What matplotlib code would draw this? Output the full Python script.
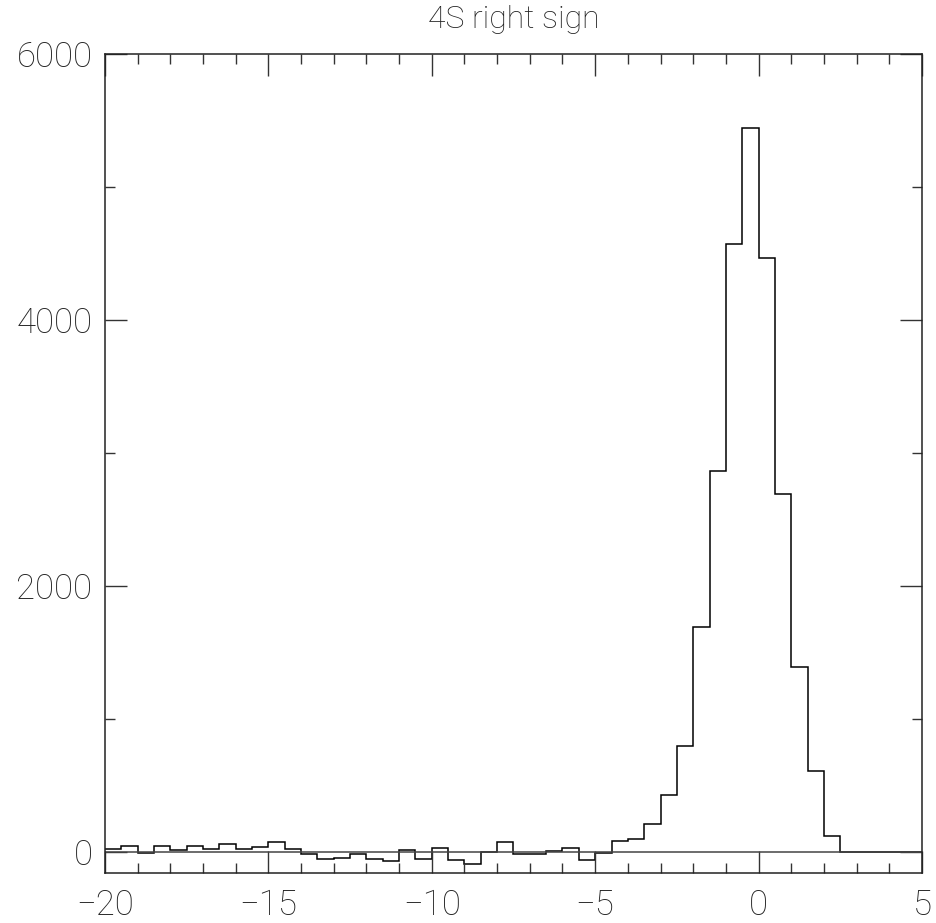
import matplotlib
matplotlib.use("Agg")
import matplotlib.pyplot as plt
import numpy as np
from matplotlib.ticker import MultipleLocator

# histogram, 0.5 wide bins from -20 to 5
bin_lo, bin_hi, bin_w = -20.0, 5.0, 0.5
counts = [20, 45, -10, 40, 10, 40, 23, 60, 23, 33,
          70, 18, -15, -55, -50, -20, -55, -70, 10, -55,
          30, -65, -90, 0, 70, -20, -20, 3, 30, -65,
          -12, 83, 93, 211, 426, 795, 1692, 2863, 4570, 5440,
          4462, 2690, 1387, 609, 120, 0, 0, 0, 0, 0]
title = "4S right sign"

plt.rcParams['font.family'] = ['Roboto', 'DejaVu Sans']
plt.rcParams['font.weight'] = 'light'

edges = np.linspace(bin_lo, bin_hi, len(counts) + 1)

fig = plt.figure(figsize=(9.37, 9.23), dpi=100)
fig.patch.set_facecolor('white')
ax = fig.add_axes([0.112, 0.0542, 0.872, 0.8873])

ax.stairs(counts, edges, baseline=None, color="black", linewidth=1.1)
ax.axhline(0, color="#444444", linewidth=1.1)

ax.set_xlim(bin_lo, bin_hi)
ax.set_ylim(-160, 6000)

ax.xaxis.set_major_locator(MultipleLocator(5))
ax.xaxis.set_minor_locator(MultipleLocator(1))
ax.yaxis.set_major_locator(MultipleLocator(2000))
ax.yaxis.set_minor_locator(MultipleLocator(1000))
ax.tick_params(which='both', direction='in', top=True, right=True,
               color='#333333', width=1)
ax.tick_params(which='major', length=16)
ax.tick_params(which='minor', length=7.5)
ax.tick_params(axis='x', which='major', pad=11, labelsize=25, labelcolor='#222222')
ax.tick_params(axis='y', which='major', pad=9, labelsize=25, labelcolor='#222222')

for s in ax.spines.values():
    s.set_color('#222222')
    s.set_linewidth(1.1)

ax.set_title(title, fontsize=23, fontweight='light', color='#222222', pad=19)

fig.savefig("out.png", dpi=100)
